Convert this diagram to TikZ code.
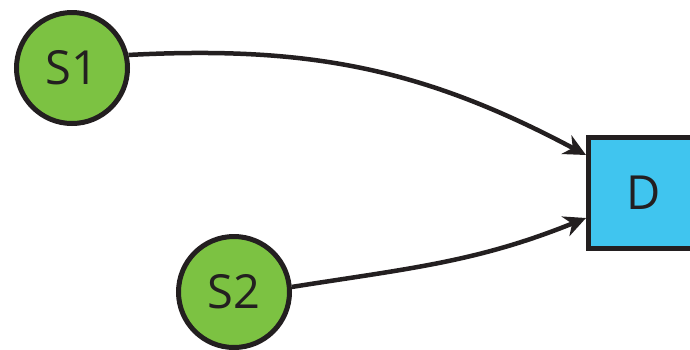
\documentclass[tikz,border=0pt]{standalone}
\usepackage{fontspec}
\setmainfont{Open Sans}
\usetikzlibrary{arrows.meta}
\definecolor{srcgreen}{HTML}{7CC242}
\definecolor{dstblue}{HTML}{40C5EF}
\definecolor{ink}{HTML}{231F20}
\tikzset{
  src/.style={circle,draw=ink,fill=srcgreen,line width=5pt,inner sep=0pt,
    minimum size=111pt,text=ink,font=\fontsize{47}{47}\selectfont},
  dst/.style={rectangle,draw=ink,fill=dstblue,line width=5pt,inner sep=0pt,
    minimum size=111pt,text=ink,font=\fontsize{47}{47}\selectfont},
  flow/.style={draw=ink,line width=4.5pt,-{Stealth[length=22pt,width=21pt,inset=7pt]}}
}
\begin{document}
\begin{tikzpicture}[x=1pt,y=1pt]
\useasboundingbox (0,0) rectangle (690,-349);
\begin{scope}
\clip (0,0) rectangle (690,-349);
\node[src] (s1) at (72,-68) {S1};
\node[src] (s2) at (234,-292) {S2};
\node[dst] (d) at (644,-193) {D};
\draw[flow] (s1.13) to[out=3,in=152] ([yshift=38pt]d.west);
\draw[flow] (s2.5) to[out=9,in=-158] ([yshift=-25pt]d.west);
\end{scope}
\end{tikzpicture}
\end{document}
